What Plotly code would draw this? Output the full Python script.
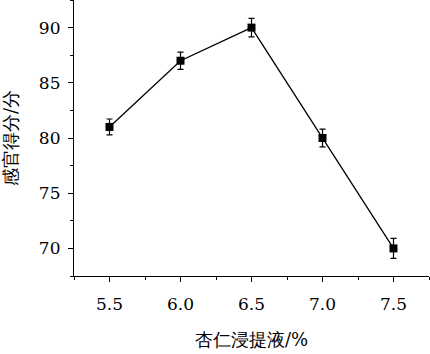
import plotly.graph_objects as go

concentration = [5.5, 6.0, 6.5, 7.0, 7.5]
score = [81, 87, 90, 80, 70]
score_err = [0.72, 0.78, 0.84, 0.8, 0.9]

FONT = "DejaVu Serif"

fig = go.Figure()
fig.add_trace(go.Scatter(
    x=concentration, y=score,
    mode="lines+markers",
    line=dict(color="black", width=1.3),
    marker=dict(symbol="square", size=8, color="black"),
    error_y=dict(type="data", array=score_err, visible=True, color="black", thickness=1.2, width=3),
    showlegend=False,
))

fig.update_layout(
    width=430, height=354,
    margin=dict(l=74, r=1, t=0, b=78),
    paper_bgcolor="white", plot_bgcolor="white",
    font=dict(family=FONT, color="black", size=17),
)
fig.update_xaxes(
    range=[5.25, 7.75],
    tickvals=[5.5, 6.0, 6.5, 7.0, 7.5],
    ticktext=["5.5", "6.0", "6.5", "7.0", "7.5"],
    ticks="outside", ticklen=5, tickwidth=1, tickcolor="black",
    minor=dict(dtick=0.25, tick0=5.25, ticks="outside", ticklen=3, tickcolor="black", showgrid=False),
    showline=True, linecolor="black", linewidth=1.2,
    showgrid=False, zeroline=False,
    ticklabelstandoff=7,
    tickfont=dict(size=17, family=FONT),
    title=dict(text="杏仁浸提液/%", font=dict(size=18, family=FONT), standoff=20),
)
fig.update_yaxes(
    range=[67.5, 92.5],
    tickvals=[70, 75, 80, 85, 90],
    ticks="outside", ticklen=5, tickwidth=1, tickcolor="black",
    minor=dict(dtick=2.5, tick0=67.5, ticks="outside", ticklen=3, tickcolor="black", showgrid=False),
    showline=True, linecolor="black", linewidth=1.2,
    showgrid=False, zeroline=False,
    ticklabelstandoff=4,
    tickfont=dict(size=17, family=FONT),
    title=dict(text="感官得分/分", font=dict(size=18, family=FONT), standoff=22),
)

fig.write_html("out.html")
